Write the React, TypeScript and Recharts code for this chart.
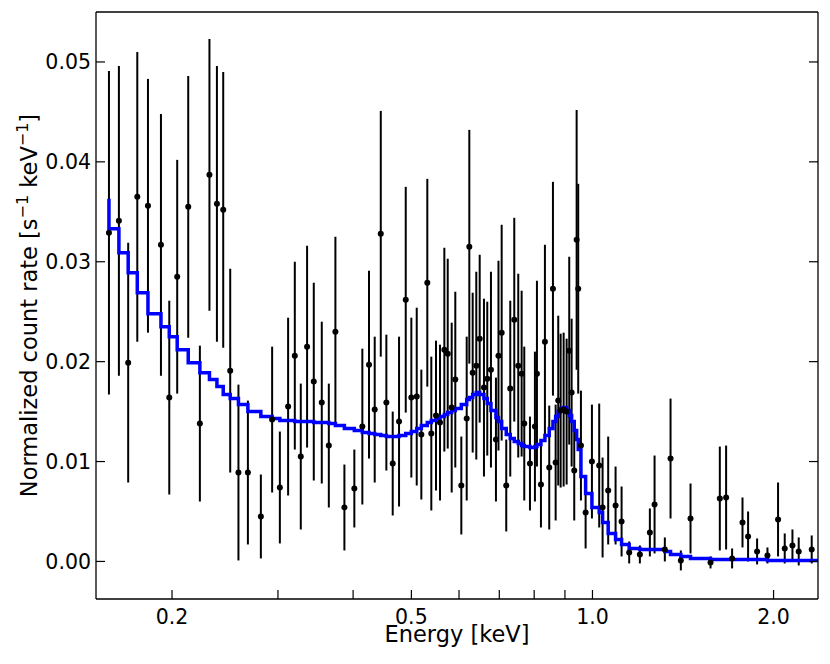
import React from "react";
import {
  ComposedChart,
  Scatter,
  Line,
  XAxis,
  YAxis,
  ErrorBar,
  Label,
} from "recharts";

// binned spectrum
const energy = [
  0.1571, 0.1632, 0.1691, 0.1751, 0.1824, 0.1917, 0.1979, 0.204, 0.2128, 0.2225,
  0.2308, 0.2375, 0.2433, 0.2499, 0.2579, 0.2674, 0.281, 0.2934, 0.3022, 0.3119,
  0.32, 0.3274, 0.3354, 0.3441, 0.3548, 0.3645, 0.3738, 0.3869, 0.4019, 0.4144,
  0.4251, 0.4345, 0.4447, 0.4543, 0.4655, 0.4769, 0.4893, 0.4999, 0.5103, 0.5194,
  0.5314, 0.5396, 0.5494, 0.5579, 0.5672, 0.5746, 0.5834, 0.5915, 0.6053, 0.6179,
  0.6241, 0.6322, 0.641, 0.6494, 0.6601, 0.6685, 0.678, 0.6911, 0.6978, 0.7064,
  0.7189, 0.73, 0.7413, 0.7527, 0.7625, 0.7702, 0.7872, 0.8023, 0.8085, 0.821,
  0.8336, 0.8475, 0.8596, 0.8685, 0.8772, 0.8853, 0.8955, 0.9058, 0.9149, 0.9233,
  0.9326, 0.9412, 0.9469, 0.9568, 0.9741, 0.9979, 1.0261, 1.0395, 1.062, 1.0925,
  1.1179, 1.1509, 1.1989, 1.2457, 1.2683, 1.3192, 1.3483, 1.4025, 1.4555, 1.5713,
  1.6282, 1.6679, 1.7066, 1.7759, 1.8143, 1.8779, 1.9539, 2.0348, 2.0875, 2.15,
  2.2023, 2.3146,
];

const rate = [
  0.0329, 0.0341, 0.0199, 0.0365, 0.0356, 0.0317, 0.0164, 0.0285, 0.0355, 0.0138,
  0.0387, 0.0358, 0.0352, 0.0191, 0.0089, 0.0089, 0.0045, 0.0142, 0.0074, 0.0155,
  0.0206, 0.0105, 0.0215, 0.018, 0.0159, 0.0116, 0.023, 0.0054, 0.0073, 0.0135,
  0.0197, 0.0152, 0.0328, 0.0159, 0.0098, 0.014, 0.0262, 0.0164, 0.0165, 0.0127,
  0.0279, 0.0128, 0.0146, 0.0139, 0.0212, 0.0208, 0.0154, 0.0182, 0.0076, 0.0143,
  0.0315, 0.0189, 0.0196, 0.0223, 0.0174, 0.0183, 0.0192, 0.0122, 0.0206, 0.0229,
  0.0076, 0.0173, 0.0242, 0.0196, 0.0188, 0.0138, 0.0098, 0.0135, 0.0188, 0.0077,
  0.022, 0.0094, 0.0273, 0.0099, 0.0161, 0.0151, 0.0152, 0.015, 0.0211, 0.0169,
  0.0091, 0.0322, 0.0273, 0.0116, 0.0049, 0.01, 0.0096, 0.0054, 0.0071, 0.0056,
  0.004, 0.0009, 0.0007, 0.0029, 0.0057, 0.0012, 0.0103, 0.0001, 0.0043, -0.0001,
  0.0063, 0.0064, 0.0003, 0.0039, 0.0025, 0.001, 0.0006, 0.0042, 0.0013, 0.0016,
  0.001, 0.0012,
];

const rateErr = [
  0.0162, 0.0155, 0.012, 0.0145, 0.0127, 0.0131, 0.0097, 0.0117, 0.0131, 0.0078,
  0.0136, 0.0138, 0.0138, 0.0102, 0.0088, 0.0072, 0.0042, 0.0073, 0.0056, 0.0089,
  0.0094, 0.0073, 0.0101, 0.0099, 0.0081, 0.0062, 0.0095, 0.0043, 0.0039, 0.0078,
  0.0094, 0.0073, 0.0123, 0.0068, 0.0052, 0.0085, 0.0113, 0.008, 0.0089, 0.0065,
  0.0104, 0.0077, 0.0075, 0.0078, 0.0102, 0.0095, 0.0085, 0.0088, 0.0049, 0.0082,
  0.0117, 0.008, 0.0094, 0.0084, 0.0089, 0.0077, 0.0098, 0.0062, 0.0095, 0.0108,
  0.0046, 0.0088, 0.0102, 0.0092, 0.0083, 0.0077, 0.0047, 0.0075, 0.0093, 0.0043,
  0.0097, 0.0062, 0.0107, 0.0058, 0.0085, 0.0077, 0.0077, 0.0073, 0.0094, 0.0074,
  0.005, 0.013, 0.0105, 0.0055, 0.0036, 0.0057, 0.0062, 0.005, 0.0054, 0.0039,
  0.0035, 0.0011, 0.0009, 0.0024, 0.0049, 0.0012, 0.006, 0.001, 0.0035, 0.0006,
  0.0052, 0.0052, 0.001, 0.0025, 0.0025, 0.0013, 0.0008, 0.0037, 0.0015, 0.0016,
  0.0014, 0.0014,
];

// folded model, one level per bin
const model = [
  0.0333, 0.0309, 0.0289, 0.0269, 0.0248, 0.0235, 0.0225, 0.0212, 0.0199, 0.0189,
  0.0182, 0.0175, 0.0167, 0.0163, 0.0157, 0.015, 0.0145, 0.0143, 0.0141, 0.0141,
  0.014, 0.014, 0.014, 0.0139, 0.0139, 0.0138, 0.0136, 0.0133, 0.0131, 0.0129,
  0.0128, 0.0127, 0.0126, 0.0125, 0.0125, 0.0126, 0.0128, 0.013, 0.0133, 0.0136,
  0.0139, 0.0141, 0.0143, 0.0145, 0.0147, 0.0149, 0.0151, 0.0153, 0.0157, 0.0162,
  0.0164, 0.0167, 0.0169, 0.0167, 0.0163, 0.0158, 0.0151, 0.0144, 0.014, 0.0133,
  0.0127, 0.0123, 0.012, 0.0118, 0.0116, 0.0115, 0.0114, 0.0115, 0.0117, 0.0121,
  0.0126, 0.0133, 0.014, 0.0145, 0.015, 0.0153, 0.0154, 0.0151, 0.0146, 0.014,
  0.0131, 0.0122, 0.0112, 0.0085, 0.0068, 0.0054, 0.0049, 0.0039, 0.0028, 0.0022,
  0.0017, 0.0013, 0.0012, 0.0012, 0.0012, 0.001, 0.0007, 0.0005, 0.0003, 0.0002,
  0.0002, 0.0002, 0.0002, 0.0002, 0.0002, 0.0002, 0.0001, 0.0001, 0.0001, 0.0001,
  0.0001, 0.0001,
];
const modelStart = 0.0363;

const X_MIN = 0.1495;
const X_MAX = 2.371;
const Y_MIN = -0.00376;
const Y_MAX = 0.055;

const xTicks = [0.2, 0.3, 0.4, 0.5, 0.6, 0.7, 0.8, 0.9, 1.0, 2.0];
const xLabelled = [0.2, 0.5, 1.0, 2.0];
const yTicks = [0, 0.01, 0.02, 0.03, 0.04, 0.05];

const points = energy.map((e, i) => ({ energy: e, rate: rate[i], err: rateErr[i] }));
const modelPoints = [
  { energy: energy[0], model: modelStart },
  ...energy.map((e, i) => ({ energy: e, model: model[i] })),
  { energy: X_MAX, model: model[model.length - 1] },
];

const FONT = "DejaVu Sans, sans-serif";
const axisLine = { stroke: "#000", strokeWidth: 1.3 };
const tickLine = { stroke: "#000", strokeWidth: 1.2 };

const Dot = (p: any) => <circle cx={p.cx} cy={p.cy} r={3} fill="#000" />;

const YLabel = ({ viewBox }: any) => {
  const x = viewBox.x + 37;
  const y = viewBox.y + viewBox.height / 2;
  return (
    <text
      x={x}
      y={y}
      transform={`rotate(-90 ${x} ${y})`}
      textAnchor="middle"
      fontFamily={FONT}
      fontSize={22.5}
      fill="#000"
    >
      Normalized count rate [s
      <tspan dy={-9} fontSize={16}>−1</tspan>
      <tspan dy={9}> keV</tspan>
      <tspan dy={-9} fontSize={16}>−1</tspan>
      <tspan dy={9}>]</tspan>
    </text>
  );
};

const XLabel = ({ viewBox }: any) => (
  <text
    x={viewBox.x + viewBox.width / 2}
    y={viewBox.y + 42.5}
    textAnchor="middle"
    fontFamily={FONT}
    fontSize={22.5}
    fill="#000"
  >
    Energy [keV]
  </text>
);

export default function App() {
  return (
    <div style={{ width: 830, height: 664, background: "#fff" }}>
      <style>{"body{margin:0}"}</style>
      <ComposedChart width={830} height={664} margin={{ top: 11, right: 11, bottom: 0, left: 0 }}>
        <XAxis
          dataKey="energy"
          type="number"
          scale="log"
          domain={[X_MIN, X_MAX]}
          allowDataOverflow
          ticks={xTicks}
          interval={0}
          tickFormatter={(v: number) => (xLabelled.includes(v) ? v.toFixed(1) : "")}
          height={65}
          axisLine={axisLine}
          tickLine={tickLine}
          tickSize={-9}
          tickMargin={19.5}
          tick={{ fill: "#000", fontSize: 20.5, fontFamily: FONT }}
        >
          <Label content={XLabel} />
        </XAxis>
        <XAxis
          xAxisId="top"
          orientation="top"
          type="number"
          scale="log"
          domain={[X_MIN, X_MAX]}
          allowDataOverflow
          ticks={xTicks}
          interval={0}
          height={1}
          axisLine={axisLine}
          tickLine={tickLine}
          tickSize={-9}
          tickFormatter={() => ""}
        />
        <YAxis
          type="number"
          domain={[Y_MIN, Y_MAX]}
          allowDataOverflow
          ticks={yTicks}
          interval={0}
          tickFormatter={(v: number) => v.toFixed(2)}
          width={96}
          axisLine={axisLine}
          tickLine={tickLine}
          tickSize={-9}
          tickMargin={14}
          tick={{ fill: "#000", fontSize: 20.5, fontFamily: FONT }}
        >
          <Label content={YLabel} />
        </YAxis>
        <YAxis
          yAxisId="right"
          orientation="right"
          type="number"
          domain={[Y_MIN, Y_MAX]}
          allowDataOverflow
          ticks={yTicks}
          interval={0}
          width={1}
          axisLine={axisLine}
          tickLine={tickLine}
          tickSize={-9}
          tickFormatter={() => ""}
        />
        <Scatter data={points} dataKey="rate" shape={Dot} isAnimationActive={false}>
          <ErrorBar dataKey="err" direction="y" width={0} stroke="#000" strokeWidth={2} />
        </Scatter>
        <Line
          data={modelPoints}
          dataKey="model"
          type="stepAfter"
          stroke="#0000ff"
          strokeWidth={3.5}
          dot={false}
          activeDot={false}
          isAnimationActive={false}
        />
      </ComposedChart>
    </div>
  );
}
